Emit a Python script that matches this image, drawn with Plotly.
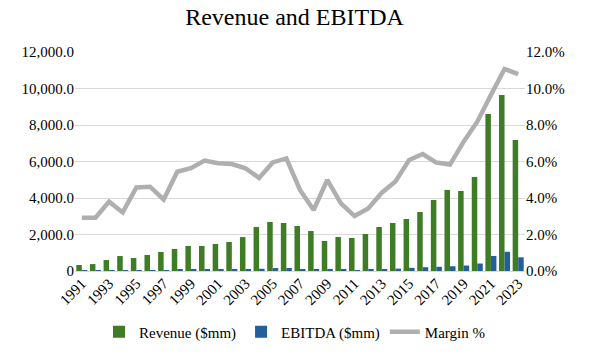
import plotly.graph_objects as go

years = [str(y) for y in range(1991, 2024)]
revenue = [330, 380, 600, 820, 710, 880, 1040, 1205, 1370, 1370, 1480, 1590, 1860,
           2410, 2685, 2630, 2466, 2190, 1644, 1863, 1808, 2027, 2411, 2630, 2849,
           3233, 3890, 4438, 4383, 5150, 8600, 9640, 7180]
ebitda = [10, 11, 23, 26, 33, 41, 41, 66, 77, 83, 87, 93, 105,
          123, 160, 162, 109, 73, 82, 69, 54, 70, 103, 129, 173,
          207, 231, 259, 300, 410, 825, 1055, 750]
margin = [2.92, 2.92, 3.80, 3.21, 4.58, 4.62, 3.92, 5.44, 5.63, 6.05, 5.90, 5.86, 5.63,
          5.10, 5.95, 6.17, 4.44, 3.34, 4.99, 3.71, 3.01, 3.43, 4.29, 4.90, 6.08,
          6.41, 5.94, 5.83, 7.09, 8.18, 9.64, 11.07, 10.79]

left_ticks = [0, 2000, 4000, 6000, 8000, 10000, 12000]
left_labels = ["0", "2,000.0", "4,000.0", "6,000.0", "8,000.0", "10,000.0", "12,000.0"]
right_ticks = [0, 2, 4, 6, 8, 10, 12]
right_labels = ["0.0%", "2.0%", "4.0%", "6.0%", "8.0%", "10.0%", "12.0%"]

FONT = "Liberation Serif"
tickfont = dict(family=FONT, size=15, color="black")

fig = go.Figure()
fig.add_trace(go.Bar(x=years, y=revenue, name="Revenue ($mm)", marker_color="#3E7D26"))
fig.add_trace(go.Bar(x=years, y=ebitda, name="EBITDA ($mm)", marker_color="#255F9A"))
fig.add_trace(go.Scatter(x=years, y=margin, name="Margin %", mode="lines",
                         line=dict(color="#AFAFAF", width=4.5), yaxis="y2"))

fig.update_layout(
    template="none",
    width=589, height=355,
    margin=dict(l=75, r=64, t=52, b=84, autoexpand=False),
    paper_bgcolor="white", plot_bgcolor="white",
    font=dict(family=FONT, size=15, color="black"),
    title=dict(text="Revenue and EBITDA", x=0.5, xanchor="center",
               y=1 - 17 / 355, yanchor="middle", yref="container",
               font=dict(family=FONT, size=24, color="black")),
    barmode="group", bargap=0.19, bargroupgap=0.0,
    showlegend=True,
    legend=dict(orientation="h", x=0.5, xanchor="center", xref="container",
                y=1 - 332 / 355, yanchor="middle", yref="container",
                font=dict(family=FONT, size=15, color="black"), traceorder="normal"),
    xaxis=dict(type="category", tickangle=-45, dtick=2, showgrid=False,
               showline=False, ticks="", tickfont=tickfont, automargin=False,
               zeroline=False),
    yaxis=dict(range=[0, 12000], tickvals=left_ticks, ticktext=left_labels,
               showgrid=True, gridcolor="#D9D9D9", gridwidth=1, zeroline=True,
               zerolinecolor="#D9D9D9", zerolinewidth=1, showline=False, ticks="",
               tickfont=tickfont, automargin=False),
    yaxis2=dict(range=[0, 12], tickvals=right_ticks, ticktext=right_labels,
                overlaying="y", side="right", showgrid=False, zeroline=False,
                showline=False, ticks="", tickfont=tickfont, automargin=False),
)

fig.write_html("out.html", config={"displayModeBar": False},
               post_script="document.body.style.margin='0';document.body.style.overflow='hidden';")
